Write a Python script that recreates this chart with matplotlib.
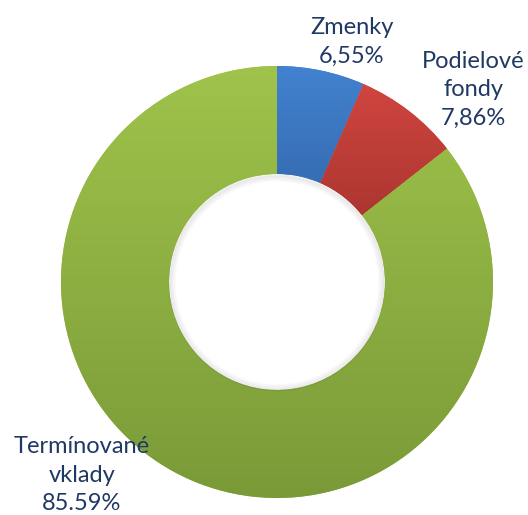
import numpy as np
import matplotlib.pyplot as plt
from matplotlib.colors import LinearSegmentedColormap

labels = ['Zmenky', 'Podielové\nfondy', 'Termínované\nvklady']
pct_labels = ['6,55%', '7,86%', '85.59%']
values = [6.55, 7.86, 85.59]
top_colors = ['#4282d0', '#d0453f', '#9fc34b']
bottom_colors = ['#2d5c9c', '#9a2e2a', '#7a9a38']
text_color = '#1f3864'

W, H = 528, 515
fig = plt.figure(figsize=(W / 100, H / 100), dpi=100)
cx, cy, R = 277, 282, 216
ax = fig.add_axes([(cx - R) / W, (H - cy - R) / H, 2 * R / W, 2 * R / H])
ax.set_xlim(-1, 1)
ax.set_ylim(-1, 1)
ax.set_aspect('equal')
ax.axis('off')

wedges, _ = ax.pie(values, startangle=90, counterclock=False, radius=1,
                   wedgeprops=dict(width=0.5, linewidth=0), colors=top_colors)

# vertical gradient inside each wedge
for w, c1, c2 in zip(wedges, top_colors, bottom_colors):
    cmap = LinearSegmentedColormap.from_list('g', [c2, c1])
    verts = w.get_path().vertices
    y0, y1 = verts[:, 1].min(), verts[:, 1].max()
    x0, x1 = verts[:, 0].min(), verts[:, 0].max()
    grad = np.linspace(0, 1, 256).reshape(-1, 1)
    im = ax.imshow(grad, cmap=cmap, origin='lower', extent=[x0, x1, y0, y1],
                   aspect='auto', zorder=w.get_zorder() + 0.1)
    im.set_clip_path(w)

# soft shadow just inside the hole, a bit stronger at the top
for i in range(5):
    ring = plt.Circle((0, -0.004), 0.497 - i * 0.006, color='k', fill=False,
                      lw=1.5, alpha=0.06 - i * 0.011, zorder=5)
    ax.add_patch(ring)
ax.set_xlim(-1, 1)
ax.set_ylim(-1, 1)


def px(x, y):
    return (x - cx) / R, (cy - y) / R


label_pos = [(352, 42), (473, 90), (82, 475)]
for lab, pct, (lx, ly) in zip(labels, pct_labels, label_pos):
    tx, ty = px(lx, ly)
    ax.text(tx, ty, lab + '\n' + pct, ha='center', va='center', fontsize=17,
            family='Lato', color=text_color, linespacing=1.45, clip_on=False)

fig.savefig('out.png', dpi=100)
